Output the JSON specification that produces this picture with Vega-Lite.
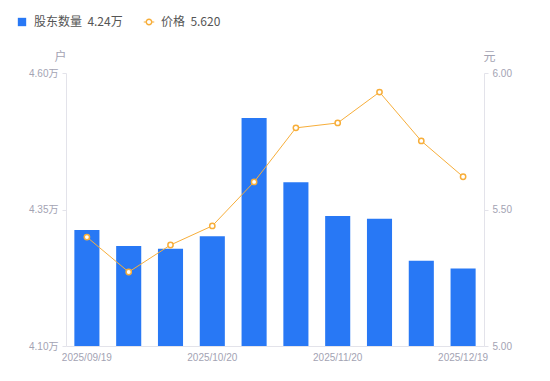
{
  "$schema": "https://vega.github.io/schema/vega-lite/v6.json",
  "width": 418,
  "height": 273,
  "autosize": "none",
  "padding": {"left": 66, "top": 73, "right": 66, "bottom": 35},
  "background": "white",
  "config": {
    "view": {"stroke": null},
    "font": "Arial, Liberation Sans, Noto Sans CJK SC",
    "axis": {"labelFont": "Arial, Liberation Sans, Noto Sans CJK SC", "titleFont": "Noto Sans CJK SC"}
  },
  "data": {
    "values": [
      {"date": "2025/09/19", "holders": 4.3125, "price": 5.399},
      {"date": "2025/09/30", "holders": 4.283, "price": 5.271},
      {"date": "2025/10/10", "holders": 4.278, "price": 5.370},
      {"date": "2025/10/20", "holders": 4.301, "price": 5.440},
      {"date": "2025/10/31", "holders": 4.5176, "price": 5.601},
      {"date": "2025/11/10", "holders": 4.400, "price": 5.799},
      {"date": "2025/11/20", "holders": 4.338, "price": 5.817},
      {"date": "2025/11/28", "holders": 4.333, "price": 5.930},
      {"date": "2025/12/10", "holders": 4.256, "price": 5.751},
      {"date": "2025/12/19", "holders": 4.242, "price": 5.620}
    ]
  },
  "encoding": {
    "x": {
      "field": "date",
      "type": "ordinal",
      "sort": null,
      "scale": {"paddingInner": 0.4, "paddingOuter": 0.2},
      "axis": {
        "title": null,
        "labelAngle": 0,
        "ticks": false,
        "domainColor": "#e3e3ea",
        "labelColor": "#a3a3b3",
        "labelFontSize": 10,
        "labelPadding": 6,
        "labelOverlap": false,
        "labelExpr": "indexof(['2025/09/19','2025/10/20','2025/11/20','2025/12/19'], datum.label) >= 0 ? datum.label : ''"
      }
    }
  },
  "layer": [
    {
      "mark": {"type": "bar", "clip": true, "color": "#2878f5"},
      "encoding": {
        "y": {
          "field": "holders",
          "type": "quantitative",
          "scale": {"domain": [4.1, 4.6], "zero": false, "nice": false},
          "axis": {
            "values": [4.1, 4.35, 4.6],
            "labelExpr": "format(datum.value, '.2f') + '万'",
            "title": "户",
            "titleAngle": 0,
            "titleAlign": "center",
            "titleBaseline": "bottom",
            "titleX": -6,
            "titleY": -10,
            "titleColor": "#a3a3b3",
            "titleFontSize": 12,
            "titleFontWeight": "normal",
            "grid": false,
            "domainColor": "#e3e3ea",
            "tickColor": "#e3e3ea",
            "tickSize": 4,
            "labelColor": "#a3a3b3",
            "labelFontSize": 10,
            "labelPadding": 4
          }
        },
        "color": {
          "datum": "股东数量",
          "scale": {"domain": ["股东数量", "价格"], "range": ["#2878f5", "#f7ae3a"]},
          "legend": {
            "title": null,
            "orient": "none",
            "legendX": -50,
            "legendY": -57,
            "direction": "horizontal",
            "columnPadding": 20,
            "labelFont": "Noto Sans CJK SC",
            "labelFontSize": 12,
            "labelColor": "#555555",
            "labelOffset": 6,
            "symbolSize": 70,
            "symbolStrokeWidth": 0,
            "labelExpr": "datum.label == '股东数量' ? '股东数量\u00a0\u00a04.24万' : '价格\u00a0\u00a05.620'",
            "encode": {
              "symbols": {
                "update": {
                  "shape": {"signal": "datum.value == '价格' ? 'M0.7,0 A0.7,0.7 0 1,1 -0.7,0 A0.7,0.7 0 1,1 0.7,0 Z M0.4,0 A0.4,0.4 0 1,0 -0.4,0 A0.4,0.4 0 1,0 0.4,0 Z M-1.05,-0.1 L-0.65,-0.1 L-0.65,0.1 L-1.05,0.1 Z M0.65,-0.1 L1.05,-0.1 L1.05,0.1 L0.65,0.1 Z' : 'square'"},
                  "strokeWidth": {"value": 0},
                  "fillOpacity": {"value": 1},
                  "size": {"signal": "datum.value == '价格' ? 100 : 70"}
                }
              }
            }
          }
        }
      }
    },
    {
      "mark": {"type": "line", "color": "#f7ae3a", "strokeWidth": 1},
      "encoding": {
        "y": {
          "field": "price",
          "type": "quantitative",
          "scale": {"domain": [5, 6], "zero": false, "nice": false},
          "axis": {
            "orient": "right",
            "values": [5, 5.5, 6],
            "format": ".2f",
            "title": "元",
            "titleAngle": 0,
            "titleAlign": "center",
            "titleBaseline": "bottom",
            "titleX": 5,
            "titleY": -10,
            "titleColor": "#a3a3b3",
            "titleFontSize": 12,
            "titleFontWeight": "normal",
            "grid": false,
            "domainColor": "#e3e3ea",
            "tickColor": "#e3e3ea",
            "tickSize": 4,
            "labelColor": "#a3a3b3",
            "labelFontSize": 10,
            "labelPadding": 4
          }
        },
        "color": {"datum": "价格"}
      }
    },
    {
      "mark": {"type": "point", "filled": true, "fill": "white", "stroke": "#f7ae3a", "strokeWidth": 1.5, "size": 28, "opacity": 1},
      "encoding": {
        "y": {"field": "price", "type": "quantitative", "scale": {"domain": [5, 6], "zero": false, "nice": false}, "axis": null}
      }
    }
  ],
  "resolve": {"scale": {"y": "independent"}}
}
